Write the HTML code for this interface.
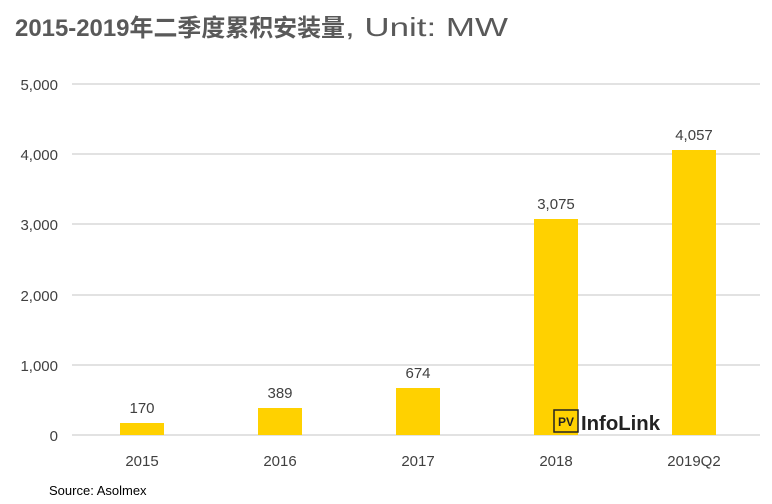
<!DOCTYPE html>
<html><head><meta charset="utf-8"><style>
html,body{margin:0;padding:0;background:#fff;}
svg{display:block;font-family:"Liberation Sans","Noto Sans CJK SC",sans-serif;}
</style></head><body>
<svg width="772" height="504" viewBox="0 0 772 504">
<text x="15" y="36" font-size="24" fill="#595959"><tspan font-weight="bold" textLength="330" lengthAdjust="spacingAndGlyphs">2015-2019年二季度累积安装量</tspan><tspan font-size="26" textLength="163" lengthAdjust="spacingAndGlyphs">, Unit: MW</tspan></text>
<g stroke="#d9d9d9" stroke-width="1.5">
<line x1="72" x2="760" y1="84" y2="84"/><line x1="72" x2="760" y1="154" y2="154"/>
<line x1="72" x2="760" y1="224" y2="224"/><line x1="72" x2="760" y1="295" y2="295"/>
<line x1="72" x2="760" y1="365" y2="365"/><line x1="72" x2="760" y1="435" y2="435"/>
</g>
<g font-size="15" fill="#404040" text-anchor="end">
<text x="58" y="90">5,000</text><text x="58" y="160">4,000</text><text x="58" y="230">3,000</text>
<text x="58" y="301">2,000</text><text x="58" y="371">1,000</text><text x="58" y="441">0</text>
</g>
<g fill="#ffd100">
<rect x="120" y="423" width="44" height="12"/>
<rect x="258" y="408" width="44" height="27"/>
<rect x="396" y="388" width="44" height="47"/>
<rect x="534" y="219" width="44" height="216"/>
<rect x="672" y="150" width="44" height="285"/>
</g>
<g font-size="15" fill="#404040" text-anchor="middle">
<text x="142" y="413">170</text><text x="280" y="398">389</text><text x="418" y="378">674</text>
<text x="556" y="209">3,075</text><text x="694" y="140">4,057</text>
<text x="142" y="466">2015</text><text x="280" y="466">2016</text><text x="418" y="466">2017</text>
<text x="556" y="466">2018</text><text x="694" y="466">2019Q2</text>
</g>
<rect x="554" y="410" width="24" height="22" fill="#ffd100" stroke="#222" stroke-width="1.5"/>
<text x="566" y="426" font-size="12" font-weight="bold" fill="#222" text-anchor="middle">PV</text>
<text x="581" y="430" font-size="20" font-weight="bold" fill="#222" textLength="79" lengthAdjust="spacingAndGlyphs">InfoLink</text>
<text x="49" y="495" font-size="13" fill="#000">Source: Asolmex</text>
</svg>
</body></html>
